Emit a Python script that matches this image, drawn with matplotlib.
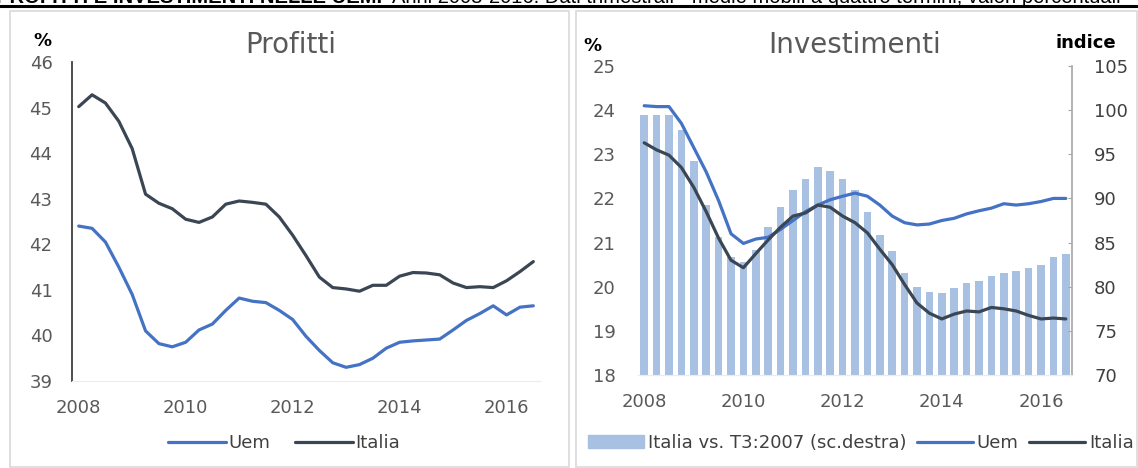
import matplotlib
matplotlib.use("Agg")
import matplotlib.pyplot as plt
import numpy as np
from matplotlib.lines import Line2D
from matplotlib.patches import Rectangle, Patch

# ---- data: quarterly, four-term moving averages, 2008 T1 - 2016 T3 ----
quarters = [f"{y} T{q}" for y in range(2008, 2017) for q in range(1, 5)][:35]
tick_labels = ["2008", "2010", "2012", "2014", "2016"]
tick_quarters = ["2008 T1", "2010 T1", "2012 T1", "2014 T1", "2016 T1"]

# Profit share (%)
profitti_uem = [42.40, 42.35, 42.05, 41.50, 40.90, 40.10, 39.82, 39.75, 39.85, 40.12,
                40.25, 40.55, 40.82, 40.75, 40.72, 40.55, 40.35, 39.98, 39.67, 39.40,
                39.30, 39.36, 39.50, 39.72, 39.85, 39.88, 39.90, 39.92, 40.12, 40.33,
                40.48, 40.65, 40.45, 40.62, 40.65]
profitti_italia = [45.02, 45.28, 45.10, 44.70, 44.10, 43.10, 42.90, 42.78, 42.55, 42.48,
                   42.60, 42.88, 42.95, 42.92, 42.88, 42.60, 42.20, 41.75, 41.28, 41.05,
                   41.02, 40.97, 41.10, 41.10, 41.30, 41.38, 41.37, 41.33, 41.15, 41.05,
                   41.07, 41.05, 41.20, 41.40, 41.62]

# Investment rate (%)
invest_uem = [24.10, 24.08, 24.08, 23.70, 23.15, 22.60, 21.95, 21.20, 20.98, 21.08,
              21.12, 21.30, 21.50, 21.70, 21.85, 21.97, 22.05, 22.12, 22.05, 21.85,
              21.60, 21.45, 21.40, 21.42, 21.50, 21.55, 21.65, 21.72, 21.78, 21.88,
              21.85, 21.88, 21.93, 22.00, 22.00]
invest_italia = [23.26, 23.10, 22.98, 22.70, 22.25, 21.70, 21.10, 20.60, 20.43, 20.75,
                 21.06, 21.35, 21.60, 21.67, 21.85, 21.80, 21.60, 21.45, 21.22, 20.85,
                 20.50, 20.05, 19.63, 19.40, 19.27, 19.38, 19.45, 19.43, 19.53, 19.50,
                 19.45, 19.35, 19.27, 19.29, 19.27]
# Italian investment, index T3:2007 = 100 (right scale)
indice_italia = [99.4, 99.4, 99.5, 97.8, 94.2, 89.3, 85.6, 83.4, 82.8, 84.2,
                 86.8, 89.0, 91.0, 92.2, 93.6, 93.1, 92.2, 91.0, 88.5, 85.9,
                 84.0, 81.5, 80.0, 79.4, 79.3, 79.9, 80.4, 80.6, 81.2, 81.5,
                 81.8, 82.1, 82.5, 83.4, 83.7]

# ---- styling ----
BLUE = "#4472c4"
DARK = "#3b4654"
BAR = "#a8c0e2"
TICK = "#595959"
LW = 2.3
plt.rcParams["font.family"] = ["DejaVu Sans"]

W, H = 1138, 468
fig = plt.figure(figsize=(W / 100, H / 100), dpi=100)


def fx(px):
    return px / W


def fy(py):
    return 1 - py / H


def box(x0, y0, x1, y1):
    return [fx(x0), fy(y1), (x1 - x0) / W, (y1 - y0) / H]


x = np.arange(len(quarters))
tick_pos = [quarters.index(q) for q in tick_quarters]

# header strip (running over the top edge) and panel frames
fig.text(fx(-4), fy(3), "PROFITTI E INVESTIMENTI NELLE UEM.", fontsize=14.5,
         fontweight="bold", family="Liberation Sans", va="baseline", ha="left")
fig.text(fx(392), fy(3), "Anni 2008-2016. Dati trimestrali - medie mobili a quattro termini; "
         "valori percentuali", fontsize=14.5, family="Liberation Sans", va="baseline", ha="left")
fig.add_artist(Line2D([0, 1], [fy(5.5), fy(5.5)], transform=fig.transFigure,
                      color="black", lw=2.2))
for x0, x1 in [(10, 569), (576, 1137)]:
    fig.add_artist(Rectangle((fx(x0), fy(467)), (x1 - x0) / W, (467 - 11) / H,
                             transform=fig.transFigure, fill=False,
                             edgecolor="#d9d9d9", lw=1.2))

# ---- left panel: profits ----
ax1 = fig.add_axes(box(72, 62, 540, 381))
l_uem, = ax1.plot(x, profitti_uem, color=BLUE, lw=LW, solid_capstyle="round")
l_ita, = ax1.plot(x, profitti_italia, color=DARK, lw=LW, solid_capstyle="round")
ax1.set_xlim(-0.5, len(quarters) - 0.5)
ax1.set_ylim(39, 46)
ax1.set_yticks(range(39, 47))
ax1.set_xticks(tick_pos)
ax1.set_xticklabels(tick_labels)
for s in ("top", "right"):
    ax1.spines[s].set_visible(False)
ax1.spines["left"].set_color("#404040")
ax1.spines["left"].set_linewidth(1.3)
ax1.spines["bottom"].set_color("#ececec")
ax1.tick_params(axis="both", length=0, labelsize=13, labelcolor=TICK)
ax1.tick_params(axis="y", pad=14)
ax1.tick_params(axis="x", pad=13)
fig.text(fx(42), fy(41), "%", fontsize=13, fontweight="bold", ha="center", va="center")
fig.text(fx(291), fy(45), "Profitti", fontsize=20, color=TICK, ha="center", va="center")
fig.legend([l_uem, l_ita], ["Uem", "Italia"], loc="center",
           bbox_to_anchor=(fx(284), fy(443)), ncol=2, frameon=False, fontsize=13,
           handlelength=3.2, handletextpad=0.1, columnspacing=1.4, labelcolor="#404040")

# ---- right panel: investment ----
ax2 = fig.add_axes(box(638, 66, 1072, 375))
ax2r = ax2.twinx()
bars = ax2r.bar(x, indice_italia, width=0.6, color=BAR, zorder=1)
ax2r.set_ylim(70, 105)
ax2r.set_yticks(range(70, 106, 5))
ax2.set_zorder(ax2r.get_zorder() + 1)
ax2.patch.set_visible(False)

r_uem, = ax2.plot(x, invest_uem, color=BLUE, lw=LW, solid_capstyle="round")
r_ita, = ax2.plot(x, invest_italia, color=DARK, lw=LW, solid_capstyle="round")
ax2.set_xlim(-0.5, len(quarters) - 0.5)
ax2.set_ylim(18, 25)
ax2.set_yticks(range(18, 26))
ax2.set_xticks(tick_pos)
ax2.set_xticklabels(tick_labels)
for a in (ax2, ax2r):
    for s in ("top", "left"):
        a.spines[s].set_visible(False)
    a.spines["bottom"].set_color("#ececec")
ax2.spines["right"].set_visible(False)
ax2r.spines["right"].set_color("#a6a6a6")
ax2r.spines["right"].set_linewidth(1.2)
ax2.tick_params(axis="both", length=0, labelsize=13, labelcolor=TICK)
ax2.tick_params(axis="y", pad=16)
ax2.tick_params(axis="x", pad=13)
ax2r.tick_params(axis="y", direction="in", length=3, color="#a6a6a6",
                 labelsize=13, labelcolor="#404040", pad=16)
fig.text(fx(592), fy(46), "%", fontsize=13, fontweight="bold", ha="center", va="center")
fig.text(fx(1086), fy(43), "indice", fontsize=13, fontweight="bold", ha="center", va="center")
fig.text(fx(855), fy(45), "Investimenti", fontsize=20, color=TICK, ha="center", va="center")
fig.legend([Patch(color=BAR), r_uem, r_ita],
           ["Italia vs. T3:2007 (sc.destra)", "Uem", "Italia"], loc="center",
           bbox_to_anchor=(fx(861), fy(443)), ncol=3, frameon=False, fontsize=13,
           handlelength=3.1, handletextpad=0.2, columnspacing=0.6, labelcolor="#404040")

fig.savefig("out.png", dpi=100)
